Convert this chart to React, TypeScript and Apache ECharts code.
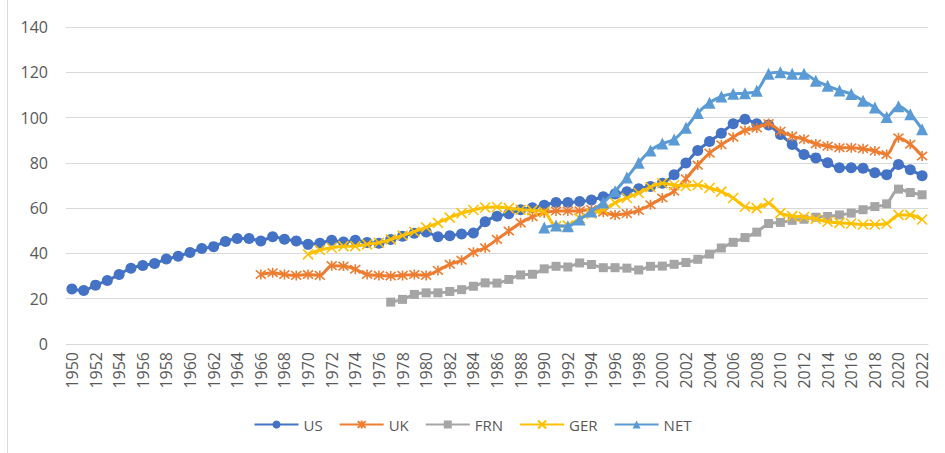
import React, { useEffect, useRef } from "react";
import * as echarts from "echarts";

const years: string[] = [];
for (let y = 1950; y <= 2022; y++) years.push(String(y));

const N = null;

// 1950–2022
const us = [
  24.3, 23.6, 26, 28, 30.7, 33.5, 34.7, 35.6, 37.5, 38.8,
  40.4, 42.2, 43, 45.3, 46.6, 46.6, 45.5, 47.4, 46.3, 45.5,
  44, 44.5, 45.8, 45, 45.8, 44.8, 44.5, 46.2, 47.6, 48.9,
  49.5, 47.4, 47.8, 48.6, 49, 54, 56.4, 57.5, 59.3, 60.2,
  61.3, 62.5, 62.5, 62.9, 63.6, 65, 66.3, 67.2, 68.6, 69.6,
  71, 74.7, 79.9, 85.5, 89.4, 93.1, 97.3, 99.3, 97.3, 96.7,
  92.5, 88.1, 83.7, 82.2, 80, 77.8, 77.8, 77.6, 75.6, 74.8,
  79.3, 77, 74.3,
];

const uk = [
  N, N, N, N, N, N, N, N, N, N,
  N, N, N, N, N, N, 30.7, 31.5, 30.7, 30.3,
  30.7, 30.3, 34.6, 34.4, 33, 30.7, 30.3, 30, 30.3, 30.7,
  30.3, 32.5, 35.2, 37, 40.5, 42.5, 46.2, 49.9, 53.5, 56.2,
  57.9, 58.7, 58.7, 58.8, 59.4, 58.2, 57, 57.6, 59, 61.5,
  64.5, 67.5, 73, 79, 84.3, 88, 91.3, 94.3, 95.4, 97.4,
  94, 91.8, 90.4, 88.3, 87.4, 86.7, 86.7, 86.2, 85.2, 83.7,
  91.1, 88.2, 83,
];

const frn = [
  N, N, N, N, N, N, N, N, N, N,
  N, N, N, N, N, N, N, N, N, N,
  N, N, N, N, N, N, N, 18.5, 19.7, 21.9,
  22.6, 22.6, 23.2, 24, 25.5, 27, 26.9, 28.5, 30.5, 30.8,
  33.2, 34.3, 34, 35.8, 35.1, 33.7, 33.7, 33.5, 32.7, 34.3,
  34.4, 35.2, 36, 37.4, 39.7, 42.4, 44.9, 47, 49.4, 53.2,
  53.7, 54.6, 55.1, 56, 56.3, 57, 57.8, 59.3, 60.7, 61.9,
  68.4, 66.9, 65.9,
];

const ger = [
  N, N, N, N, N, N, N, N, N, N,
  N, N, N, N, N, N, N, N, N, N,
  39.6, 41.5, 42.5, 43.2, 43.2, 44, 44.7, 46.2, 47.9, 49.6,
  51.5, 53.5, 55.8, 57.8, 59.2, 60.3, 60.5, 60, 59.3, 59,
  58.4, 52, 52.3, 55.5, 57.5, 59.4, 62.3, 64.5, 66.7, 69.3,
  71, 70.2, 69.8, 70.2, 68.9, 67.3, 64.5, 60.6, 60, 62.2,
  57.8, 56.5, 56.1, 55.2, 54, 53.5, 53.2, 52.8, 52.8, 53.2,
  57, 57, 55,
];

const net = [
  N, N, N, N, N, N, N, N, N, N,
  N, N, N, N, N, N, N, N, N, N,
  N, N, N, N, N, N, N, N, N, N,
  N, N, N, N, N, N, N, N, N, N,
  51.4, 52.3, 52, 55, 58.5, 62.5, 67.5, 73.5, 80, 85.5,
  88.5, 90.3, 95.5, 102, 106.5, 109.3, 110.5, 110.7, 111.8, 119.3,
  120, 119.3, 119.3, 116.3, 114, 112, 110.4, 107.4, 104.4, 100.3,
  105, 101.5, 94.8,
];

const seriesNames = ["US", "UK", "FRN", "GER", "NET"];
const colors = ["#4472C4", "#ED7D31", "#A5A5A5", "#FFC000", "#5B9BD5"];
const yTicks = { min: 0, max: 140, interval: 20 };

const FONT = "'Open Sans', 'Noto Sans', sans-serif";
const TXT = "#595959";

export default function App() {
  const ref = useRef<HTMLDivElement>(null);
  useEffect(() => {
    document.body.style.margin = "0";
    const chart = echarts.init(ref.current!, undefined, { renderer: "svg" });
    const xPath = "path://M0,0L10,10M10,0L0,10";
    const starPath = "path://M0,0L10,10M10,0L0,10M5,-1L5,11";
    const datas = [us, uk, frn, ger, net];
    const symbols = ["circle", starPath, "rect", xPath, "triangle"];
    const sizes = [11, 10, 9, 10, 12];
    const series = datas.map((d, i) => {
      const stroked = i === 1 || i === 3;
      return {
        name: seriesNames[i],
        type: "line",
        data: d,
        smooth: 0.3,
        symbol: symbols[i],
        symbolSize: sizes[i],
        showAllSymbol: true,
        lineStyle: { width: 3, color: colors[i] },
        itemStyle: stroked
          ? { color: colors[i], borderColor: colors[i], borderWidth: 1.6 }
          : { color: colors[i], borderWidth: 0 },
        emphasis: { disabled: true },
        z: 2 + i,
      };
    });
    chart.setOption({
      animation: false,
      color: colors,
      textStyle: { fontFamily: FONT },
      grid: { left: 66, right: 17, top: 27, bottom: 109, containLabel: false },
      legend: {
        data: seriesNames,
        bottom: 16,
        left: "center",
        itemWidth: 44,
        itemHeight: 10,
        itemGap: 16,
        textStyle: { color: TXT, fontSize: 15, fontFamily: FONT },
      },
      xAxis: {
        type: "category",
        data: years,
        boundaryGap: true,
        axisLine: { show: true, lineStyle: { color: "#d9d9d9", width: 1 } },
        axisTick: { show: false },
        axisLabel: {
          interval: 1,
          rotate: 90,
          color: TXT,
          fontSize: 16,
          margin: 8,
          fontFamily: FONT,
        },
        splitLine: { show: false },
      },
      yAxis: {
        type: "value",
        min: yTicks.min,
        max: yTicks.max,
        interval: yTicks.interval,
        axisLine: { show: false },
        axisTick: { show: false },
        axisLabel: { color: TXT, fontSize: 16, margin: 18, fontFamily: FONT },
        splitLine: { lineStyle: { color: "#d9d9d9", width: 1 } },
      },
      graphic: [
        {
          type: "line",
          shape: { x1: 7.5, y1: 0, x2: 7.5, y2: 453 },
          style: { stroke: "#d9d9d9", lineWidth: 1 },
        },
      ],
      series,
    });
    return () => chart.dispose();
  }, []);
  return <div ref={ref} style={{ width: 945, height: 453 }} />;
}
